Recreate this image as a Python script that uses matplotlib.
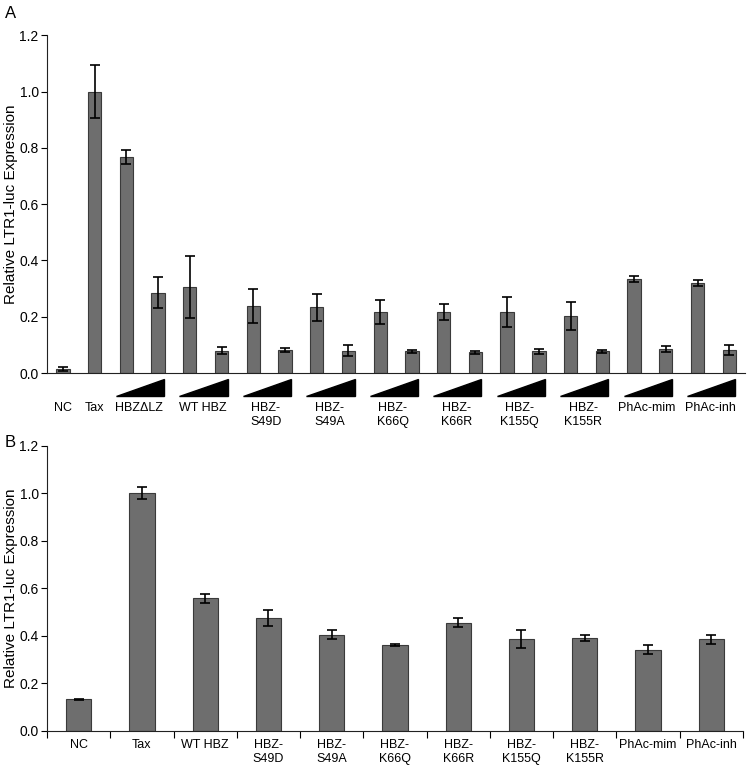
import matplotlib.pyplot as plt
import matplotlib.transforms as mtransforms
import numpy as np

plt.rcParams['font.family'] = ['Liberation Sans', 'DejaVu Sans']

# Panel A data: NC, Tax, then pairs (low / high dose)
a_single = ['NC', 'Tax']
a_single_vals = [0.015, 1.0]
a_single_err = [0.006, 0.095]
a_groups = ['HBZΔLZ', 'WT HBZ', 'HBZ-\nS49D', 'HBZ-\nS49A', 'HBZ-\nK66Q', 'HBZ-\nK66R',
            'HBZ-\nK155Q', 'HBZ-\nK155R', 'PhAc-mim', 'PhAc-inh']
a_low = [0.768, 0.305, 0.238, 0.233, 0.217, 0.217, 0.217, 0.203, 0.335, 0.320]
a_low_err = [0.025, 0.110, 0.060, 0.048, 0.043, 0.029, 0.052, 0.050, 0.010, 0.010]
a_high = [0.285, 0.080, 0.082, 0.080, 0.077, 0.073, 0.077, 0.077, 0.085, 0.083]
a_high_err = [0.055, 0.012, 0.008, 0.018, 0.006, 0.006, 0.010, 0.006, 0.010, 0.018]

# Panel B data
b_labels = ['NC', 'Tax', 'WT HBZ', 'HBZ-\nS49D', 'HBZ-\nS49A', 'HBZ-\nK66Q', 'HBZ-\nK66R',
            'HBZ-\nK155Q', 'HBZ-\nK155R', 'PhAc-mim', 'PhAc-inh']
b_vals = [0.132, 1.0, 0.557, 0.475, 0.405, 0.362, 0.455, 0.385, 0.392, 0.342, 0.385]
b_err = [0.003, 0.025, 0.020, 0.035, 0.018, 0.005, 0.018, 0.038, 0.012, 0.019, 0.018]

y_ticks = [0.0, 0.2, 0.4, 0.6, 0.8, 1.0, 1.2]
ylabel = 'Relative LTR1-luc Expression'

bar_color = '#6e6e6e'
edge_color = '#3a3a3a'
fs_tick = 10
fs_label = 11

fig = plt.figure(figsize=(7.49, 7.66), dpi=100)
axA = fig.add_axes([0.0628, 0.513, 0.932, 0.441])
axB = fig.add_axes([0.0628, 0.046, 0.929, 0.372])


def style_axis(ax):
    ax.spines['top'].set_visible(False)
    ax.spines['right'].set_visible(False)
    ax.spines['left'].set_color('#222222')
    ax.spines['bottom'].set_color('#222222')
    ax.set_ylim(0, 1.2)
    ax.set_yticks(y_ticks)
    ax.set_yticklabels([f'{v:.1f}' for v in y_ticks], fontsize=fs_tick)
    ax.tick_params(axis='y', direction='out', length=4, width=0.8, pad=2)
    ax.set_ylabel(ylabel, fontsize=fs_label, labelpad=1)


# ---- Panel A ----
vals_a = list(a_single_vals)
errs_a = list(a_single_err)
for lo, hi, le, he in zip(a_low, a_high, a_low_err, a_high_err):
    vals_a += [lo, hi]
    errs_a += [le, he]
xa = np.arange(len(vals_a))
axA.bar(xa, vals_a, width=0.42, color=bar_color, edgecolor=edge_color, linewidth=0.8,
        yerr=errs_a, capsize=3.5, error_kw=dict(ecolor='black', elinewidth=1.2, capthick=1.2))
axA.set_xlim(-0.5, 21.5)
axA.set_xticks([])
style_axis(axA)

trans = mtransforms.blended_transform_factory(axA.transData, axA.transAxes)
for k, name in enumerate(a_single):
    axA.text(k, -0.085, name, transform=trans, ha='center', va='top', fontsize=9)
for g, name in enumerate(a_groups):
    i = 2 + 2 * g
    x0, x1 = i - 0.33, i + 1.19
    axA.fill([x0, x1, x1], [-0.068, -0.068, -0.018], color='black', transform=trans,
             clip_on=False)
    axA.text(i + 0.4, -0.085, name, transform=trans, ha='center', va='top', fontsize=9,
             linespacing=1.25)
fig.text(0.006, 0.992, 'A', fontsize=12, ha='left', va='top')

# ---- Panel B ----
xb = np.arange(len(b_labels))
axB.bar(xb, b_vals, width=0.4, color=bar_color, edgecolor=edge_color, linewidth=0.8,
        yerr=b_err, capsize=3.5, error_kw=dict(ecolor='black', elinewidth=1.2, capthick=1.2))
axB.set_xlim(-0.5, 10.5)
style_axis(axB)
axB.set_xticks(xb)
axB.set_xticklabels(b_labels, fontsize=9, linespacing=1.25)
axB.tick_params(axis='x', which='major', length=0, pad=6)
axB.set_xticks(np.arange(-0.5, 10.6, 1), minor=True)
axB.tick_params(axis='x', which='minor', direction='out', length=5, width=0.8)
fig.text(0.006, 0.432, 'B', fontsize=12, ha='left', va='top')

fig.savefig('out.png', dpi=100)
